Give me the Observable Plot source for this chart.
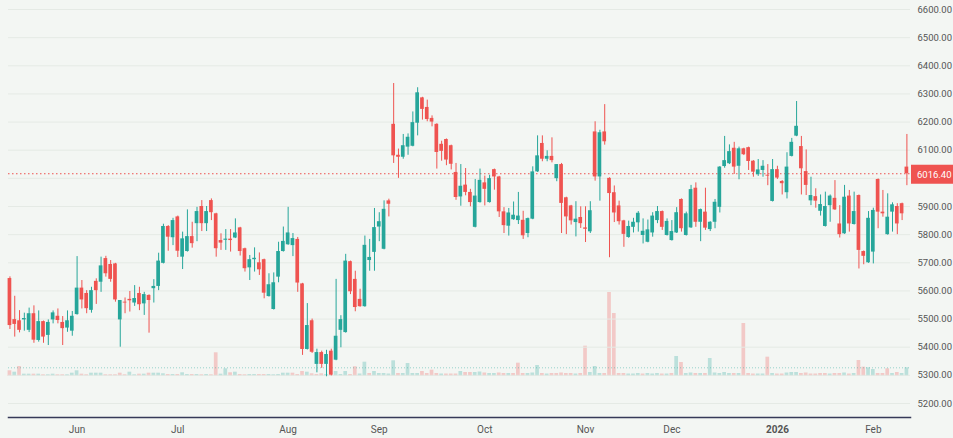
<!DOCTYPE html>
<html>
<head>
<meta charset="utf-8">
<script src="https://cdn.jsdelivr.net/npm/d3@7"></script>
<script src="https://cdn.jsdelivr.net/npm/@observablehq/plot@0.6"></script>
<style>
html, body { margin: 0; padding: 0; background: #f3f6f3; overflow: hidden; }
#chart { position: relative; width: 953px; height: 438px; background: #f3f6f3; overflow: hidden; }
#chart svg { position: absolute; left: 0; top: 0; }
</style>
</head>
<body>
<div id="chart"></div>
<script>
// ---- data ----
const open = [
5644,5498,5494,5497,5460,5519,5424,5491,5442,5497,
5510,5488,5468,5457,5516,5610,5591,5531,5634,5631,
5715,5694,5696,5497,5560,5570,5557,5591,5554,5584,
5608,5616,5698,5829,5789,5863,5720,5740,5793,5839,
5900,5839,5921,5874,5779,5780,5784,5788,5824,5750,
5682,5711,5700,5711,5580,5534,5649,5740,5764,5761,
5783,5625,5392,5494,5339,5381,5339,5386,5354,5460,
5452,5704,5641,5570,5544,5708,5737,5827,5748,5920,
6192,6082,6075,6111,6114,6196,6286,6252,6213,6192,
6121,6138,6116,6021,5934,5976,5950,5826,5914,5984,
5914,6031,6005,5881,5830,5853,5850,5851,5804,5855,
6023,6124,6068,6078,5999,6049,5931,5902,5843,5861,
5824,5810,6165,6005,6165,6000,5949,5902,5849,5790,
5826,5842,5797,5773,5806,5850,5882,5797,5779,5806,
5925,5797,5824,5965,5844,5880,5818,5844,5897,6042,
6052,6107,6043,6105,6109,6061,6013,6028,6011,5918,
6031,5989,5949,6078,6150,6113,6024,5920,5935,5883,
5829,5903,5929,5838,5803,5937,5836,5939,5740,5700,
5738,5996,5880,5800,5880,5900,5910,6040];
const high = [
5650,5581,5530,5521,5539,5547,5529,5493,5497,5529,
5536,5509,5529,5527,5722,5637,5601,5613,5643,5720,
5723,5708,5698,5566,5575,5598,5619,5613,5595,5586,
5640,5734,5837,5832,5858,5866,5809,5888,5844,5897,
5921,5900,5927,5876,5803,5818,5818,5856,5826,5752,
5726,5753,5735,5713,5661,5664,5773,5827,5897,5804,
5790,5627,5555,5500,5393,5386,5389,5393,5641,5512,
5730,5706,5670,5606,5795,5783,5893,5878,5920,5926,
6337,6104,6156,6158,6236,6322,6288,6278,6222,6194,
6132,6140,6118,6053,6049,6035,5961,5996,6033,6008,
6011,6033,6007,5896,5893,5916,5950,5883,5859,6041,
6151,6151,6098,6144,6049,6053,5933,5904,5917,5899,
5899,5917,6201,6171,6262,6002,5973,5919,5851,5848,
5858,5882,5856,5852,5878,5900,5884,5856,5850,5896,
5927,5880,5975,5984,5891,5965,5846,5925,6042,6149,
6119,6128,6111,6107,6111,6063,6067,6063,6049,6067,
6043,5992,6091,6142,6273,6149,6101,6004,5963,5941,
5951,5941,5992,5903,5975,5957,5951,5941,5742,5882,
5894,5998,5957,5945,5913,5910,5912,6156];
const low = [
5463,5436,5451,5457,5452,5414,5418,5414,5406,5483,
5483,5406,5453,5439,5514,5536,5519,5521,5552,5595,
5649,5631,5560,5400,5519,5525,5545,5530,5513,5450,
5557,5601,5696,5741,5761,5719,5676,5738,5752,5775,
5811,5811,5850,5720,5744,5744,5738,5786,5724,5667,
5637,5667,5655,5572,5578,5532,5629,5738,5762,5722,
5595,5371,5390,5378,5309,5325,5295,5298,5352,5398,
5450,5587,5526,5542,5542,5670,5670,5775,5746,5863,
6053,6000,6068,6082,6112,6151,6207,6201,6183,6033,
6061,6045,6030,5922,5901,5938,5899,5824,5912,5902,
5912,5958,5861,5804,5795,5851,5836,5783,5789,5853,
6021,6059,6059,6055,5988,5804,5800,5834,5792,5822,
5772,5804,5990,5919,6118,5718,5843,5834,5755,5787,
5806,5809,5767,5771,5791,5839,5815,5795,5777,5804,
5809,5795,5822,5826,5775,5815,5811,5821,5877,6036,
6049,6014,5995,6081,6028,6004,6007,6004,5974,5916,
5996,5941,5927,6076,6148,5941,5939,5903,5894,5866,
5827,5844,5886,5788,5801,5809,5834,5678,5693,5698,
5696,5821,5862,5798,5809,5800,5850,5974];
const close = [
5477,5481,5460,5502,5519,5425,5491,5436,5488,5522,
5495,5466,5494,5510,5610,5568,5537,5601,5601,5689,
5661,5641,5568,5566,5557,5565,5573,5551,5587,5566,
5616,5706,5829,5791,5850,5741,5785,5793,5768,5882,
5839,5882,5878,5750,5770,5784,5779,5806,5740,5679,
5711,5716,5675,5592,5622,5629,5740,5776,5806,5786,
5628,5392,5477,5382,5381,5339,5374,5301,5439,5498,
5706,5597,5541,5544,5762,5719,5825,5846,5890,5908,
6080,6075,6116,6146,6198,6304,6245,6209,6200,6092,
6096,6065,6050,5932,5972,5950,5914,5937,5993,5961,
5999,6005,5881,5832,5877,5869,5866,5796,5857,6023,
6080,6068,6078,6063,6049,5911,5863,5849,5855,5839,
5819,5885,6005,6162,6130,5946,5877,5846,5801,5829,
5844,5876,5812,5817,5866,5882,5826,5847,5811,5878,
5821,5874,5960,5844,5889,5823,5844,5915,6040,6063,
6095,6040,6105,6084,6060,6022,6030,6043,6008,6031,
6001,5981,6040,6128,6185,6034,5975,5939,5919,5907,
5900,5937,5888,5800,5933,5838,5882,5744,5723,5858,
5886,5880,5874,5862,5906,5838,5874,6016.4];
const volume = [
57,43,100,23,23,23,23,17,17,23,
17,17,17,33,57,23,17,33,33,33,
17,17,17,33,17,43,17,23,23,33,
33,33,27,20,20,20,37,20,20,20,
17,20,17,237,23,77,37,43,20,17,
20,20,20,20,20,17,20,33,33,33,
20,50,43,27,20,27,20,23,50,20,
50,20,97,25,143,30,50,30,30,25,
157,30,30,130,30,30,50,30,63,30,
25,25,25,25,50,40,40,40,45,35,
30,30,35,30,30,30,133,30,30,35,
110,30,25,30,30,35,30,30,25,30,
303,40,100,30,30,840,630,30,30,25,
25,30,25,30,25,30,25,25,30,200,
140,30,35,30,30,30,180,35,30,40,
30,30,30,530,30,25,25,25,193,30,
25,25,35,40,40,30,35,25,25,30,
30,25,30,30,35,25,30,160,93,87,
70,30,30,77,30,40,30,87];
const monthTickIndex = [14, 35, 58, 77, 99, 120, 138, 160, 180];
const monthTickLabel = ["Jun", "Jul", "Aug", "Sep", "Oct", "Nov", "Dec", "2026", "Feb"];
const priceTicks = [5200, 5300, 5400, 5500, 5600, 5700, 5800, 5900, 6000, 6100, 6200, 6300, 6400, 6500, 6600];

// ---- build ----
const UP = "#26a69a", DOWN = "#ef5350";
const n = close.length;
const bars = close.map((c, i) => ({
  i, open: open[i], high: high[i], low: low[i], close: c, volume: volume[i],
  color: c >= open[i] ? UP : DOWN,
  volColor: (i === 0 ? c >= open[i] : c >= close[i - 1]) ? UP : DOWN
}));
const last = bars[n - 1];
const W = 953, H = 438;
const M = {marginLeft: 8, marginRight: 43, marginTop: 0, marginBottom: 21};
const HALF = 0.385;
const FONT = "Roboto, 'Liberation Sans', sans-serif";
const xOpts = {type: "linear", domain: [-0.3, n - 0.25]};

const volPlot = Plot.plot({
  width: W, height: H, ...M,
  style: {background: "transparent", overflow: "visible"},
  x: {...xOpts, axis: null},
  y: {domain: [0, d3.max(volume)], range: [376, 292], axis: null},
  color: {type: "identity"},
  marks: [
    Plot.rect(bars, {x1: d => d.i - HALF, x2: d => d.i + HALF, y1: 0, y2: "volume", fill: "volColor", fillOpacity: 0.27}),
    Plot.ruleY([last.volume], {stroke: UP, strokeOpacity: 0.45, strokeDasharray: "1,2"})
  ]
});

const main = Plot.plot({
  width: W, height: H, ...M,
  style: {background: "transparent", overflow: "visible", fontFamily: FONT, fontSize: "10px", color: "#555"},
  x: {...xOpts, label: null},
  y: {domain: [5200, 6600], range: [403, 9], label: null},
  color: {type: "identity"},
  marks: [
    Plot.ruleY(priceTicks, {stroke: "#e5eae5", strokeWidth: 1}),
    Plot.ruleY([last.close], {stroke: DOWN, strokeDasharray: "1.5,2.5", strokeWidth: 1}),
    Plot.ruleX(bars, {x: "i", y1: "low", y2: "high", stroke: "color", strokeWidth: 1}),
    Plot.rect(bars, {x1: d => d.i - HALF, x2: d => d.i + HALF, y1: "open", y2: "close", fill: "color"}),
    Plot.axisY({anchor: "right", ticks: priceTicks, tickSize: 0, tickPadding: 7, label: null,
      tickFormat: d => d.toFixed(2), fill: "#555", fontSize: 9.5}),
    Plot.axisX({ticks: monthTickIndex, tickSize: 0, tickPadding: 8, label: null,
      tickFormat: d => monthTickLabel[monthTickIndex.indexOf(d)], fill: "#555", fontSize: 10}),
    Plot.frame({anchor: "bottom", stroke: "#363a58", strokeWidth: 1.5})
  ]
});

// last price label on the right axis (covers the 6000.00 tick label like the reference)
const svg = d3.select(main);
const yPos = main.scale("y").apply(last.close);
const g = svg.append("g").attr("text-anchor", "start");
g.append("rect")
  .attr("x", W - M.marginRight + 1).attr("y", yPos - 8.5)
  .attr("width", M.marginRight - 1).attr("height", 19)
  .attr("fill", DOWN);
g.append("text")
  .attr("x", W - M.marginRight + 7).attr("y", yPos + 1).attr("dy", "0.35em")
  .attr("text-anchor", "start")
  .attr("fill", "white").style("font-family", FONT).style("font-size", "9.5px")
  .text(last.close.toFixed(2));
svg.selectAll("text").filter(function () { return this.textContent === "2026"; })
  .style("font-weight", "bold");

const chart = document.getElementById("chart");
chart.appendChild(volPlot);
chart.appendChild(main);
</script>
</body>
</html>
